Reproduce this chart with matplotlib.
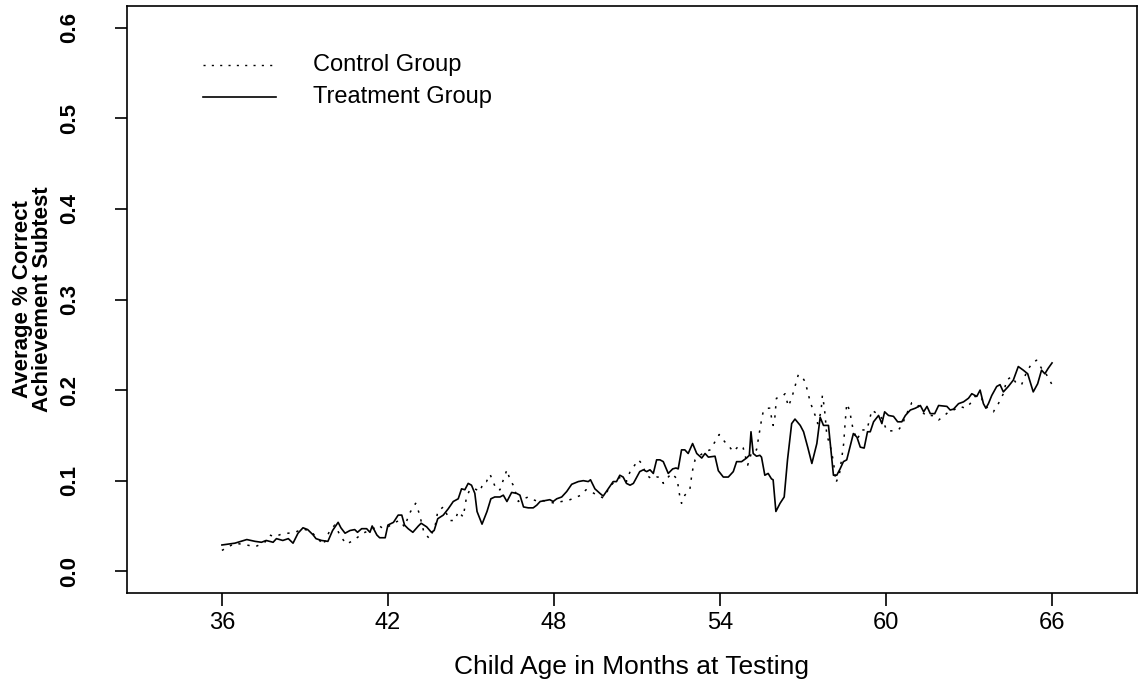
import numpy as np
import matplotlib
matplotlib.use("Agg")
import matplotlib.pyplot as plt

plt.rcParams['font.family'] = ['Liberation Sans', 'DejaVu Sans']

# Treatment group (solid line): age in months, average % correct
t_age = [36.0, 36.47, 36.9, 37.2, 37.43, 37.6, 37.85, 37.97, 38.2, 38.4, 38.57, 38.75,
         38.93, 39.1, 39.3, 39.4, 39.6, 39.83, 40.0, 40.2, 40.3, 40.45, 40.63, 40.8,
         40.9, 41.05, 41.23, 41.35, 41.43, 41.6, 41.7, 41.9, 42.0, 42.2, 42.37, 42.5,
         42.6, 42.73, 42.9, 43.1, 43.2, 43.4, 43.57, 43.67, 43.8, 44.0, 44.18, 44.36,
         44.54, 44.66, 44.78, 44.9, 45.02, 45.14, 45.22, 45.4, 45.58, 45.72, 45.86, 46.05,
         46.17, 46.3, 46.47, 46.65, 46.77, 46.9, 47.07, 47.25, 47.38, 47.5, 47.67, 47.85,
         47.97, 48.1, 48.28, 48.46, 48.64, 48.88, 49.06, 49.24, 49.32, 49.48, 49.66, 49.78,
         49.96, 50.14, 50.26, 50.38, 50.5, 50.62, 50.75, 50.87, 51.1, 51.23, 51.35, 51.47,
         51.59, 51.71, 51.83, 51.95, 52.13, 52.29, 52.41, 52.49, 52.61, 52.73, 52.85, 53.01,
         53.16, 53.34, 53.46, 53.58, 53.82, 53.94, 54.12, 54.3, 54.48, 54.6, 54.78, 54.96,
         55.06, 55.12, 55.2, 55.32, 55.44, 55.5, 55.62, 55.74, 55.86, 55.92, 56.02, 56.17,
         56.32, 56.44, 56.59, 56.71, 56.9, 57.02, 57.17, 57.32, 57.5, 57.62, 57.74, 57.92,
         58.1, 58.22, 58.34, 58.46, 58.58, 58.82, 58.95, 59.07, 59.21, 59.33, 59.43, 59.55,
         59.73, 59.85, 59.95, 60.09, 60.27, 60.42, 60.57, 60.7, 60.88, 61.06, 61.24, 61.36,
         61.48, 61.6, 61.76, 61.9, 62.2, 62.32, 62.44, 62.62, 62.8, 62.98, 63.1, 63.28,
         63.4, 63.52, 63.61, 63.7, 63.82, 64.0, 64.12, 64.24, 64.42, 64.6, 64.78, 64.96,
         65.12, 65.32, 65.48, 65.62, 65.74, 65.86, 66.0]
t_score = [.029, .031, .035, .033, .032, .034, .032, .036, .034, .036, .031, .042,
           .048, .046, .040, .036, .034, .033, .045, .054, .048, .042, .045, .046,
           .043, .047, .047, .043, .050, .040, .037, .037, .051, .054, .062, .062,
           .051, .047, .043, .050, .053, .049, .043, .045, .058, .062, .069, .077,
           .080, .091, .090, .097, .095, .086, .066, .052, .066, .080, .082, .082,
           .084, .077, .087, .086, .084, .071, .070, .070, .073, .077, .078, .079,
           .077, .080, .082, .088, .096, .099, .100, .099, .101, .091, .086, .083,
           .091, .099, .099, .106, .104, .097, .095, .097, .110, .112, .110, .112,
           .108, .123, .123, .121, .108, .113, .114, .113, .134, .134, .130, .141,
           .130, .125, .130, .126, .127, .111, .104, .104, .110, .121, .121, .125,
           .128, .154, .130, .127, .128, .126, .106, .108, .102, .101, .066, .075,
           .082, .123, .163, .168, .161, .154, .137, .119, .141, .170, .161, .161,
           .106, .106, .113, .121, .123, .152, .148, .137, .136, .154, .154, .165,
           .172, .163, .176, .172, .171, .165, .165, .172, .178, .180, .183, .176,
           .182, .174, .174, .183, .182, .178, .179, .185, .187, .191, .196, .193,
           .200, .185, .180, .185, .194, .204, .206, .198, .204, .211, .226, .222,
           .218, .198, .207, .222, .218, .224, .230]

# Control group (dotted line)
c_age = [36.0, 36.47, 36.9, 37.2, 37.55, 37.73, 37.9, 38.15, 38.4, 38.64, 38.94, 39.24,
         39.48, 39.66, 39.9, 40.08, 40.3, 40.5, 40.75, 41.1, 41.47, 41.65, 41.83, 42.0,
         42.24, 42.43, 42.6, 42.78, 43.0, 43.13, 43.3, 43.5, 43.7, 43.8, 44.0, 44.24,
         44.42, 44.54, 44.72, 44.84, 44.96, 45.14, 45.33, 45.44, 45.56, 45.69, 45.8, 45.92,
         46.05, 46.17, 46.3, 46.41, 46.53, 46.71, 46.9, 47.07, 47.25, 47.43, 47.61, 47.79,
         48.03, 48.27, 48.5, 48.74, 48.98, 49.16, 49.34, 49.55, 49.78, 50.02, 50.26, 50.44,
         50.62, 50.75, 50.87, 51.05, 51.17, 51.35, 51.53, 51.71, 51.83, 51.95, 52.07, 52.25,
         52.45, 52.55, 52.61, 52.73, 52.91, 52.97, 53.03, 53.1, 53.28, 53.46, 53.64, 53.82,
         53.97, 54.17, 54.35, 54.48, 54.7, 54.84, 55.0, 55.15, 55.32, 55.38, 55.44, 55.5,
         55.56, 55.68, 55.8, 55.86, 55.92, 55.98, 56.04, 56.17, 56.29, 56.35, 56.47, 56.59,
         56.71, 56.83, 56.96, 57.08, 57.17, 57.26, 57.34, 57.44, 57.53, 57.65, 57.7, 57.76,
         57.8, 57.86, 57.98, 58.1, 58.19, 58.31, 58.4, 58.47, 58.52, 58.58, 58.68, 58.8,
         58.95, 59.13, 59.31, 59.49, 59.67, 59.85, 60.03, 60.27, 60.45, 60.57, 60.75, 60.93,
         61.12, 61.3, 61.48, 61.66, 61.9, 62.08, 62.26, 62.44, 62.68, 62.86, 63.04, 63.22,
         63.4, 63.58, 63.76, 63.88, 64.06, 64.24, 64.36, 64.54, 64.72, 64.9, 65.08, 65.26,
         65.44, 65.62, 65.8, 66.0]
c_score = [.023, .031, .029, .027, .032, .040, .038, .041, .042, .043, .047, .043,
           .036, .029, .045, .051, .038, .030, .034, .042, .047, .051, .047, .049,
           .054, .056, .049, .064, .075, .064, .043, .036, .049, .066, .071, .056,
           .056, .066, .060, .082, .090, .091, .088, .098, .099, .107, .099, .090,
           .090, .101, .112, .101, .095, .077, .080, .082, .079, .077, .078, .077,
           .075, .077, .078, .081, .084, .090, .088, .084, .081, .093, .102, .104,
           .099, .110, .115, .123, .119, .106, .102, .104, .104, .097, .102, .108,
           .102, .082, .075, .084, .090, .104, .115, .123, .128, .132, .134, .143,
           .151, .143, .137, .132, .139, .136, .117, .132, .134, .145, .156, .167,
           .176, .180, .180, .170, .161, .169, .191, .192, .194, .196, .182, .191,
           .204, .217, .215, .209, .198, .187, .180, .172, .163, .176, .194, .183,
           .172, .150, .139, .121, .098, .106, .125, .141, .163, .185, .178, .158,
           .145, .156, .156, .178, .174, .169, .155, .155, .156, .161, .174, .186,
           .185, .176, .171, .172, .167, .171, .176, .178, .182, .180, .185, .193,
           .194, .183, .178, .176, .185, .196, .211, .215, .207, .206, .220, .229,
           .233, .224, .217, .206]

x_ticks = [36, 42, 48, 54, 60, 66]
y_ticks = [0.0, 0.1, 0.2, 0.3, 0.4, 0.5, 0.6]

fig = plt.figure(figsize=(11.38, 6.95), dpi=100)
ax = fig.add_axes([127 / 1138, 102 / 695, 1010 / 1138, 587 / 695])

dot_style = (0, (1.5, 4.5))
ax.plot(c_age, c_score, color='black', lw=1.1, linestyle=dot_style)
ax.plot(t_age, t_score, color='black', lw=1.2)

ax.set_xlim(32.57, 69.07)
ax.set_ylim(-0.024, 0.624)

ax.set_xticks(x_ticks)
ax.set_xticklabels([str(v) for v in x_ticks], fontsize=17)
ax.set_yticks(y_ticks)
ax.set_yticklabels([f"{v:.1f}" for v in y_ticks], fontsize=16, fontweight='bold',
                   rotation=90, va='center')
ax.tick_params(axis='both', direction='out', length=9, width=1.2, color='black')
ax.tick_params(axis='x', pad=5)
ax.tick_params(axis='y', pad=25)
for s in ax.spines.values():
    s.set_linewidth(1.2)

ax.set_xlabel("Child Age in Months at Testing", fontsize=19, labelpad=15)
ax.set_ylabel("Average % Correct\nAchievement Subtest", fontsize=16, fontweight='bold',
              labelpad=4, linespacing=0.95)

# legend, drawn by hand to match the R-style key
ax.plot([0.075, 0.148], [0.9, 0.9], transform=ax.transAxes, color='black',
        lw=1.0, linestyle=dot_style)
ax.plot([0.075, 0.148], [0.845, 0.845], transform=ax.transAxes, color='black', lw=1.2)
ax.text(0.184, 0.9, "Control Group", transform=ax.transAxes, fontsize=17, va='center')
ax.text(0.184, 0.845, "Treatment Group", transform=ax.transAxes, fontsize=17, va='center')

fig.savefig("out.png", dpi=100)
